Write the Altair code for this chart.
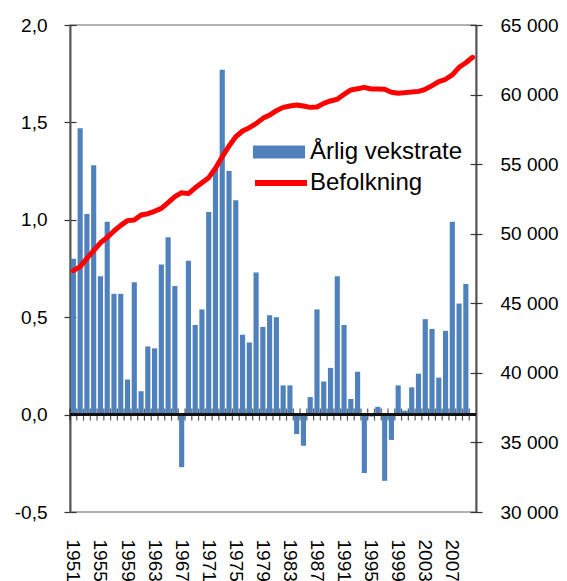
import altair as alt
import pandas as pd

years = list(range(1951, 2011))

growth = [0.80, 1.47, 1.03, 1.28, 0.71, 0.99, 0.62, 0.62, 0.18, 0.68,
          0.12, 0.35, 0.34, 0.77, 0.91, 0.66, -0.27, 0.79, 0.46, 0.54,
          1.04, 1.27, 1.77, 1.25, 1.10, 0.41, 0.37, 0.73, 0.45, 0.51,
          0.50, 0.15, 0.15, -0.10, -0.16, 0.09, 0.54, 0.17, 0.24, 0.71,
          0.46, 0.08, 0.22, -0.30, -0.01, 0.04, -0.34, -0.13, 0.15, 0.02,
          0.14, 0.21, 0.49, 0.44, 0.19, 0.43, 0.99, 0.57, 0.67, None]

population = [47340, 47630, 48230, 48780, 49350, 49740, 50195, 50600, 50940, 50985,
              51345, 51440, 51610, 51820, 52230, 52660, 52950, 52880, 53300, 53670,
              54030, 54700, 55540, 56300, 56970, 57380, 57620, 57910, 58290, 58530,
              58840, 59080, 59180, 59250, 59180, 59080, 59110, 59370, 59540, 59660,
              60020, 60330, 60420, 60520, 60400, 60400, 60380, 60160, 60090, 60140,
              60185, 60230, 60380, 60640, 60930, 61100, 61410, 61960, 62290, 62680]

year_labels = list(range(1951, 2010, 4))
left_ticks = [-0.5, 0.0, 0.5, 1.0, 1.5, 2.0]
right_ticks = [30000, 35000, 40000, 45000, 50000, 55000, 60000, 65000]

bar_name = "Årlig vekstrate"
line_name = "Befolkning"

df = pd.DataFrame({"year": years, "growth": growth, "pop": population,
                   "s1": bar_name, "s2": line_name})

FONT = "Liberation Sans"
W, H = 406, 487

x_scale = alt.Scale(type="band", paddingInner=0, paddingOuter=0)
x_axis = alt.Axis(values=year_labels, labelAngle=90, ticks=False, domain=False,
                  labelPadding=27, labelFontSize=19, labelFont=FONT,
                  labelColor="black", title=None, grid=False)
left_scale = alt.Scale(domain=[-0.5, 2.0], nice=False, zero=False)
right_scale = alt.Scale(domain=[30000, 65000], nice=False, zero=False)

base = alt.Chart(df)

bars = base.mark_bar(width=alt.RelativeBandSize(0.76)).encode(
    x=alt.X("year:O", scale=x_scale, axis=x_axis),
    y=alt.Y("growth:Q", scale=left_scale,
            axis=alt.Axis(orient="left", values=left_ticks, offset=-6, tickSize=12,
                          domain=False, grid=False, labelPadding=17,
                          labelFontSize=19, labelFont=FONT, labelColor="black",
                          tickColor="#333", tickWidth=1.2, title=None,
                          labelExpr="(datum.value < 0 ? '-' : '') + replace(format(abs(datum.value), '.1f'), '.', ',')")),
    color=alt.Color("s1:N", scale=alt.Scale(domain=[bar_name], range=["#4F81BD"]),
                    legend=alt.Legend(orient="none", legendX=183, legendY=101, title=None,
                                      symbolType="M-1,-0.25H1V0.25H-1Z", symbolSize=2704,
                                      symbolStrokeWidth=0, labelFontSize=24, labelFont=FONT,
                                      labelColor="black", labelOffset=5, padding=0)),
)

zero_rule = base.mark_rule(color="#111", strokeWidth=1.5).encode(
    y=alt.YDatum(0, scale=left_scale,
                 axis=alt.Axis(orient="left", offset=0, labels=False, ticks=False,
                               grid=False, domain=True, domainColor="#555",
                               domainWidth=2, title=None)),
)

zero_ticks = base.mark_tick(orient="vertical", size=12, thickness=1.2, color="#111").encode(
    x=alt.X("year:O", scale=x_scale, axis=x_axis, bandPosition=0),
    y=alt.YDatum(0, scale=left_scale,
                 axis=alt.Axis(orient="right", offset=0, labels=False, ticks=False,
                               grid=False, domain=True, domainColor="#555",
                               domainWidth=2, title=None)),
)

line = base.mark_line(strokeWidth=5, strokeCap="round", strokeJoin="round").encode(
    x=alt.X("year:O", scale=x_scale, axis=x_axis),
    y=alt.Y("pop:Q", scale=right_scale,
            axis=alt.Axis(orient="right", values=right_ticks, offset=-6, tickSize=12,
                          domain=False, grid=False, labelPadding=18,
                          labelFontSize=19, labelFont=FONT, labelColor="black",
                          tickColor="#333", tickWidth=1.2, title=None,
                          labelExpr="replace(format(datum.value, ',d'), ',', ' ')")),
    color=alt.Color("s2:N", scale=alt.Scale(domain=[line_name], range=["#FF0000"]),
                    legend=alt.Legend(orient="none", legendX=182, legendY=129, title=None,
                                      symbolType="stroke", symbolSize=2704,
                                      symbolStrokeWidth=6, labelFontSize=24, labelFont=FONT,
                                      labelColor="black", labelOffset=0, padding=0)),
)

chart = alt.layer(bars, zero_rule, zero_ticks, line).resolve_scale(
    y="independent", color="independent"
).properties(
    width=W, height=H,
    autosize=alt.AutoSizeParams(type="none"),
    padding={"left": 62, "top": 17, "right": 83, "bottom": 69},
).configure_view(stroke="#999", strokeWidth=1.5)

chart.save("out.html", embed_options={"renderer": "svg", "actions": False})
